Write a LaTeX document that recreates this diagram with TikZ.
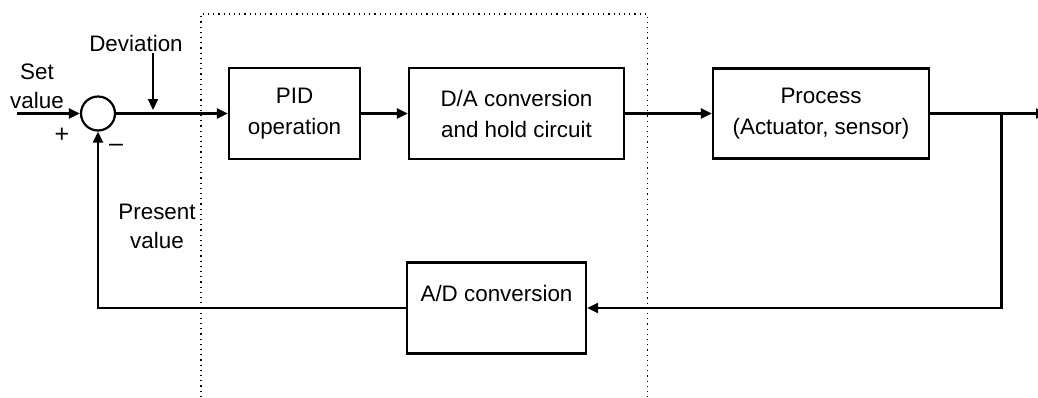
\documentclass[tikz,border=0pt]{standalone}
\usepackage{fontspec}
\setmainfont{Liberation Sans}
\usetikzlibrary{arrows.meta}
\begin{document}
\begin{tikzpicture}[x=0.5pt,y=-0.5pt,
  every node/.style={font=\fontsize{11.2}{15.5}\selectfont},
  blk/.style={draw,line width=1.1pt,rectangle,align=center,inner sep=0pt},
  lbl/.style={align=center,inner sep=0pt,font=\fontsize{11.2}{14.5}\selectfont},
  conn/.style={line width=1.1pt,-{Triangle[length=5.5pt,width=5pt]}},
  wire/.style={line width=1.1pt}]
\useasboundingbox (0,0) rectangle (1038,397);
% dotted frame
\draw[dotted,line width=0.6pt] (201,397) -- (201,14) -- (647.5,14) -- (647.5,397);
% blocks
\node[draw,circle,line width=1.1pt,minimum size=17pt,inner sep=0pt] (sum) at (98,113.5) {};
\node[blk,minimum width=65.5pt,minimum height=45.5pt] (pid) at (294.5,113.5) {PID\\operation};
\node[blk,minimum width=107.5pt,minimum height=45.5pt] (da) at (516.5,113.5) {D/A conversion\\and hold circuit};
\node[blk,minimum width=108pt,minimum height=45pt] (proc) at (821,113.5) {Process\\(Actuator, sensor)};
\node[blk,minimum width=89.5pt,minimum height=45.5pt] (ad) at (496.5,308) {};
\node[lbl] (adt) at (496.5,293) {A/D conversion};
% labels
\node[lbl] (setv) at (37,86.5) {Set\\value};
\node[lbl] (dev) at (136,43) {Deviation};
\node[lbl] (pres) at (157,226.5) {Present\\value};
\node[lbl,font=\fontsize{12.5}{14.5}\selectfont] (plus) at (62,135) {+};
\node[lbl,font=\fontsize{12.5}{14.5}\selectfont] (minus) at (116,148) {–};
% coordinates
\coordinate (in) at (17,113.5);
\coordinate (out) at (1047,113.5);
\coordinate (br) at (1001.5,113.5);
\coordinate (devtop) at (153,53);
\coordinate (devtip) at (153,110);
% connectors
\draw[conn] (in) -- (sum.west);
\draw[conn] (sum.east) -- (pid.west);
\draw[conn] (pid.east) -- (da.west);
\draw[conn] (da.east) -- (proc.west);
\draw[conn] (proc.east) -- (out);
\draw[conn] (br) |- (ad.east);
\draw[conn] (ad.west) -| (sum.south);
\draw[conn] (devtop) -- (devtip);
\end{tikzpicture}
\end{document}
